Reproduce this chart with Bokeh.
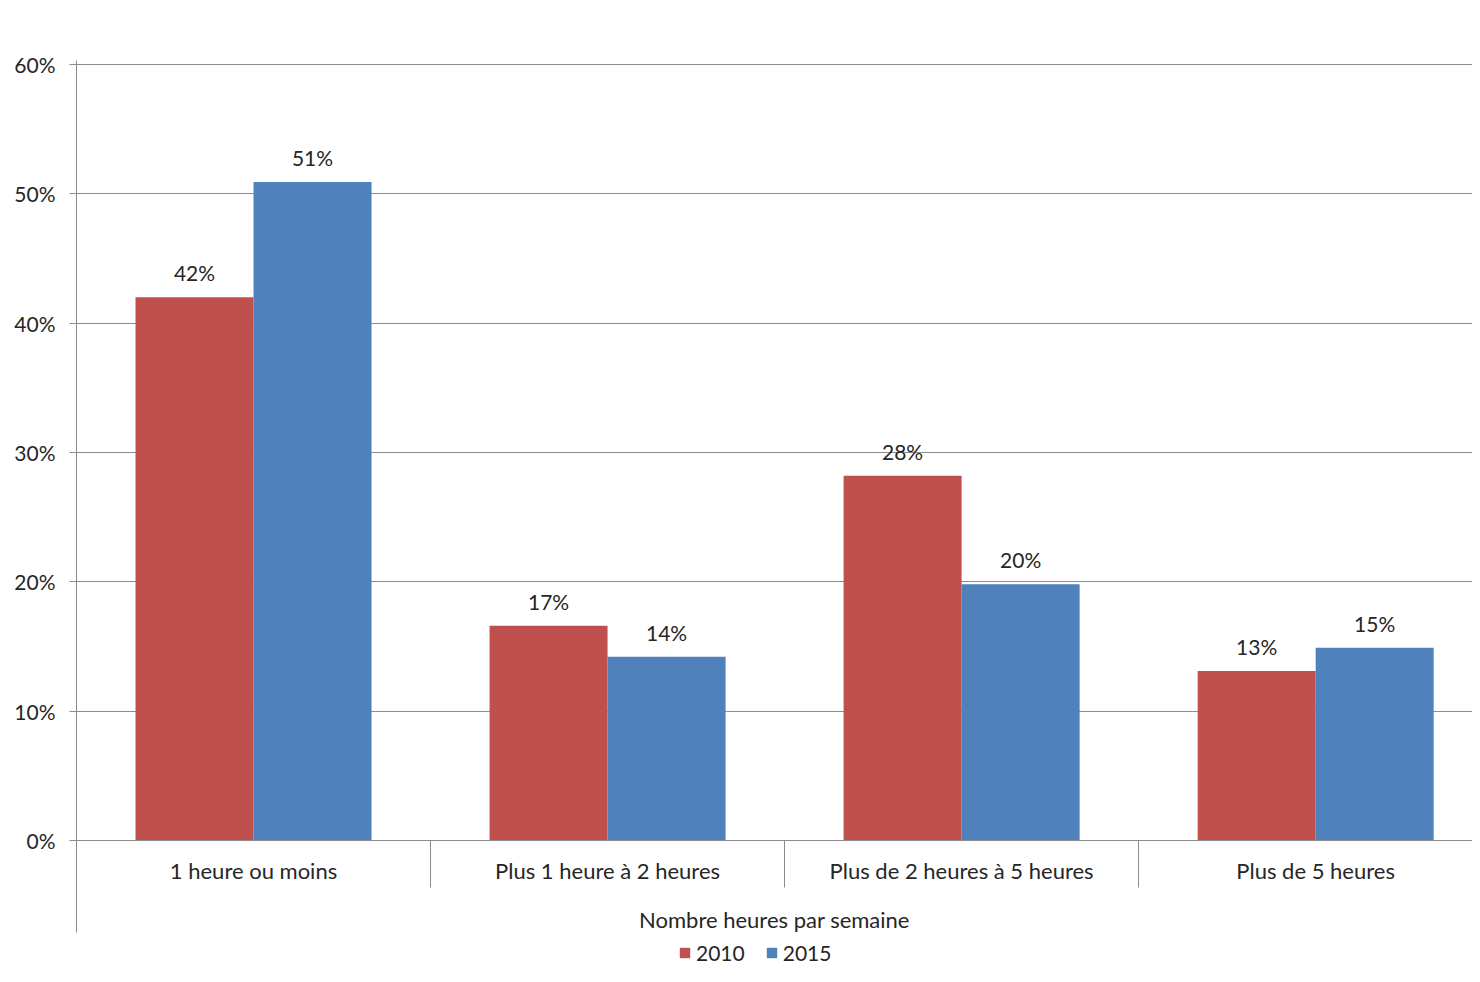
from bokeh.plotting import figure
from bokeh.models import (ColumnDataSource, Range1d, FixedTicker, Legend, LegendItem,
                          LabelSet, PrintfTickFormatter)
from bokeh.core.properties import value
from bokeh.embed import file_html
from bokeh.resources import INLINE

categories = ["1 heure ou moins", "Plus 1 heure à 2 heures",
              "Plus de 2 heures à 5 heures", "Plus de 5 heures"]
years = ["2010", "2015"]
series_2010 = [42.0, 16.6, 28.2, 13.1]
series_2015 = [50.9, 14.2, 19.8, 14.9]
y_ticks = [0, 10, 20, 30, 40, 50, 60]
x_axis_title = "Nombre heures par semaine"

colors = ["#C0504D", "#4F81BD"]
FONT = "Lato"
TXT = "#262626"
GRAY = "#8c8c8c"

centers = [i + 0.5 for i in range(len(categories))]
bar_w = 1 / 3

# frame extends below 0 so that the category axis, its title and the legend sit inside it
p = figure(frame_width=1396, frame_height=918, x_range=Range1d(0, 3.943),
           y_range=Range1d(-10.67, 60.3),
           output_backend="svg", toolbar_location=None,
           min_border_left=76, min_border_right=0, min_border_top=60, min_border_bottom=0)
p.outline_line_color = None
p.background_fill_color = "white"
p.border_fill_color = "white"

renderers = []
label_x, label_y, label_t = [], [], []
for k, (yr, vals) in enumerate(zip(years, [series_2010, series_2015])):
    xs = [c + (k - 0.5) * bar_w for c in centers]
    src = ColumnDataSource(dict(x=xs, top=vals))
    r = p.vbar(x="x", top="top", width=bar_w, bottom=0, source=src,
               fill_color=colors[k], line_color=None)
    renderers.append((yr, r))
    label_x += xs
    label_y += vals
    label_t += [f"{round(v)}%" for v in vals]

lsrc = ColumnDataSource(dict(x=label_x, y=label_y, t=label_t))
p.add_layout(LabelSet(x="x", y="y", text="t", source=lsrc, y_offset=12,
                      text_align="center", text_baseline="bottom",
                      text_font=value(FONT), text_font_size="21px", text_color=TXT))

# y axis
p.yaxis.ticker = FixedTicker(ticks=y_ticks)
p.yaxis.formatter = PrintfTickFormatter(format="%d%%")
p.yaxis.bounds = (-7.11, 60.3)
p.yaxis.major_label_text_font = FONT
p.yaxis.major_label_text_font_size = "21px"
p.yaxis.major_label_text_color = TXT
p.yaxis.axis_line_color = GRAY
p.yaxis.major_tick_line_color = GRAY
p.yaxis.major_tick_out = 7
p.yaxis.major_tick_in = 0
p.yaxis.minor_tick_line_color = None
p.yaxis.major_label_standoff = 14

p.ygrid.ticker = FixedTicker(ticks=y_ticks)
p.ygrid.grid_line_color = GRAY
p.xgrid.grid_line_color = None

# x axis at 0 (category separators drawn as minor ticks pointing outward)
p.xaxis.fixed_location = 0
p.xaxis.ticker = FixedTicker(ticks=centers, minor_ticks=list(range(len(categories) + 1)))
p.xaxis.major_label_overrides = {c: name for c, name in zip(centers, categories)}
p.xaxis.major_label_text_font = FONT
p.xaxis.major_label_text_font_size = "22px"
p.xaxis.major_label_text_color = TXT
p.xaxis.major_label_standoff = 17
p.xaxis.major_tick_out = 0
p.xaxis.major_tick_in = 0
p.xaxis.major_tick_line_color = None
p.xaxis.minor_tick_out = 0
p.xaxis.minor_tick_in = -47
p.xaxis.minor_tick_line_color = GRAY
p.xaxis.axis_line_color = GRAY
p.xaxis.axis_label = x_axis_title
p.xaxis.axis_label_text_font = FONT
p.xaxis.axis_label_text_font_size = "22px"
p.xaxis.axis_label_text_font_style = "normal"
p.xaxis.axis_label_text_color = TXT
p.xaxis.axis_label_standoff = 18

legend = Legend(items=[LegendItem(label=yr, renderers=[r]) for yr, r in renderers],
                orientation="horizontal", location=(602, 13),
                label_text_font=FONT, label_text_font_size="21px", label_text_color=TXT,
                glyph_width=13, glyph_height=13, label_standoff=5, spacing=20,
                padding=2, margin=0, border_line_color=None, background_fill_alpha=0)
p.add_layout(legend, "center")

open("out.html", "w").write(file_html(p, INLINE))
